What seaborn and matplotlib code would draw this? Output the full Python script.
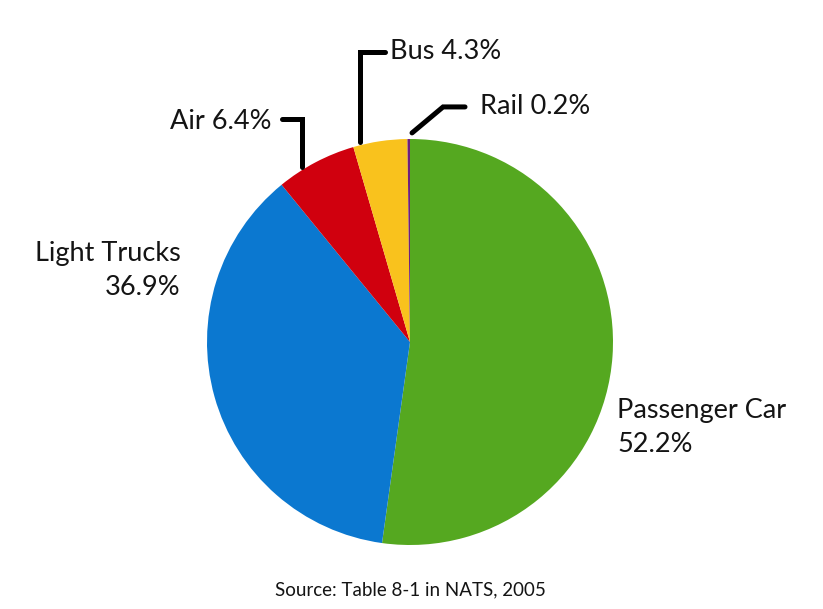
import matplotlib
matplotlib.use("Agg")
import matplotlib.pyplot as plt
import seaborn as sns

sns.set_theme(style="white")
plt.rcParams['font.family'] = ['Lato', 'DejaVu Sans']
plt.rcParams['text.color'] = '#141414'

# Data
categories = ["Passenger Car", "Light Trucks", "Air", "Bus", "Rail"]
shares = [52.2, 36.9, 6.4, 4.3, 0.2]
colors = ["#55a820", "#0b78d0", "#d0000e", "#f9c21d", "#6e1f7e"]
source = "Source: Table 8-1 in NATS, 2005"

fig = plt.figure(figsize=(8.23, 6.09), dpi=100)
fig.patch.set_facecolor("white")
ax = fig.add_axes([207 / 823, 1 - 545 / 609, 406 / 823, 406 / 609])

ax.pie(shares, colors=colors, startangle=90, counterclock=False,
       radius=1.0, wedgeprops=dict(linewidth=0))
ax.set_xlim(-1, 1)
ax.set_ylim(-1, 1)
ax.set_aspect("equal")
ax.axis("off")

fs = 19.5
lw = 3.6

# Light Trucks and Passenger Car labels
ax.text(-1.13, 0.35, f"Light Trucks\n{shares[1]}%", ha="right", va="center",
        fontsize=fs, linespacing=1.45, clip_on=False)
ax.text(1.02, -0.42, f"Passenger Car\n{shares[0]}%", ha="left", va="center",
        fontsize=fs, linespacing=1.45, clip_on=False)

# Air label with leader
ax.plot([-0.631, -0.532, -0.532], [1.099, 1.099, 0.862], color="black",
        lw=lw, clip_on=False, solid_joinstyle="miter")
ax.text(-0.680, 1.085, f"Air {shares[2]}%", ha="right", va="center",
        fontsize=fs, clip_on=False)

# Bus label with leader
ax.plot([-0.123, -0.246, -0.246], [1.429, 1.429, 0.985], color="black",
        lw=lw, clip_on=False, solid_joinstyle="miter")
ax.text(-0.100, 1.430, f"Bus {shares[3]}%", ha="left", va="center",
        fontsize=fs, clip_on=False)

# Rail label with leader
ax.plot([0.271, 0.163, 0.010], [1.158, 1.158, 1.030], color="black",
        lw=lw, clip_on=False, solid_joinstyle="miter")
ax.text(0.345, 1.160, f"Rail {shares[4]}%", ha="left", va="center",
        fontsize=fs, clip_on=False)

fig.text(410 / 823, 1 - 590 / 609, source, ha="center", va="center", fontsize=13.5)

fig.savefig("out.png", dpi=100, facecolor="white")
